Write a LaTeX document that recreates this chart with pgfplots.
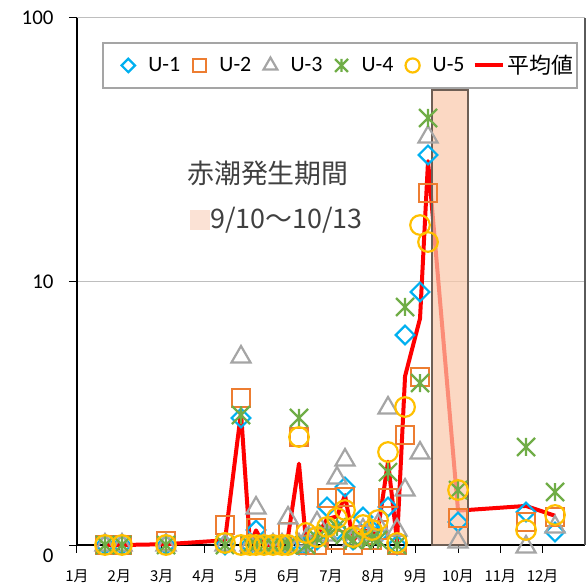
\documentclass[border=0pt]{standalone}
\usepackage{pgfplots}
\pgfplotsset{compat=1.18}
\usepackage{pgfplotstable}
\usepackage{fontspec}
\setmainfont{Carlito}
\newfontfamily\jp{Noto Sans CJK JP}

\definecolor{cU1}{RGB}{0,176,240}
\definecolor{cU2}{RGB}{237,125,49}
\definecolor{cU3}{RGB}{165,165,165}
\definecolor{cU4}{RGB}{112,173,71}
\definecolor{cU5}{RGB}{255,192,0}
\definecolor{peach}{RGB}{250,200,170}
\definecolor{peachtxt}{RGB}{251,226,213}
\definecolor{boxedge}{RGB}{110,95,85}
\definecolor{gridc}{RGB}{190,190,190}
\definecolor{legc}{RGB}{165,165,165}
\definecolor{txtc}{RGB}{64,64,64}
\definecolor{rimc}{RGB}{90,90,90}

\pgfdeclareplotmark{xstar}{%
  \pgfpathmoveto{\pgfqpoint{-\pgfplotmarksize}{-\pgfplotmarksize}}%
  \pgfpathlineto{\pgfqpoint{\pgfplotmarksize}{\pgfplotmarksize}}%
  \pgfpathmoveto{\pgfqpoint{-\pgfplotmarksize}{\pgfplotmarksize}}%
  \pgfpathlineto{\pgfqpoint{\pgfplotmarksize}{-\pgfplotmarksize}}%
  \pgfpathmoveto{\pgfqpoint{0pt}{-\pgfplotmarksize}}%
  \pgfpathlineto{\pgfqpoint{0pt}{\pgfplotmarksize}}%
  \pgfusepathqstroke
}

\pgfplotsset{
  markleg/.style={legend image code/.code={\path (0,0) (29bp,0);
    \draw[##1,/tikz/every mark/.append style={scale=0.72}] plot coordinates {(10bp,0bp)};}},
  redleg/.style={legend image code/.code={\path (0,0) (31bp,0);
    \draw[##1] (0bp,0) -- (28bp,0);}},
}

\pgfplotstableread{
x u1 u2 u3 u4 u5 avg
0.661 1 1 1 1 1 1
1.063 1 1 1 1 1 1
2.103 1 1.036 1 1 1 1.007
3.496 1 1.191 1 1 1.018 1.042
3.874 3.034 3.613 5.170 3.114 1 3.186
4.087 1 1 1 1 1 1
4.229 1.140 1.160 1.382 1 1 1.136
4.418 1 1 1 1 1 1
4.630 1 1 1 1 1 1
4.843 1 1 1 1 1 1
4.985 1 1.120 1.266 1 1 1.077
5.244 1 2.570 1 3.034 2.570 2.035
5.410 1 1 1.045 1 1.111 1.031
5.670 1.045 1 1.212 1.063 1.072 1.078
5.906 1.394 1.508 1.091 1.111 1.170 1.255
6.142 1.140 1.045 1.796 1.170 1.266 1.283
6.331 1.660 1.521 2.102 1.091 1.358 1.546
6.520 1.045 1 1.045 1.045 1.072 1.041
6.756 1.277 1.091 1.140 1.045 1.191 1.149
6.969 1.140 1.045 1.091 1.063 1.140 1.096
7.111 1.091 1.140 1.191 1.045 1.244 1.142
7.347 1.394 1.508 3.311 1.892 2.254 2.072
7.560 1 1 1.140 1 1.018 1.032
7.749 6.266 2.615 1.617 8.003 3.340 4.368
8.103 9.125 4.341 2.234 4.119 16.38 7.240
8.292 30.21 21.67 35.35 41.74 14.12 28.62
9.001 1.223 1.266 1.027 1.617 1.617 1.350
10.607 1.334 1.223 0.983 2.355 1.140 1.407
11.292 1.120 1.277 1.170 1.589 1.300 1.291
}\data

\begin{document}
\begin{tikzpicture}
\begin{axis}[
  at={(0,0)}, anchor=south west,
  scale only axis, width=508bp, height=527bp,
  xmin=0, xmax=12, ymode=log, ymin=1, ymax=100,
  clip=false,
  axis x line*=bottom, axis y line*=left,
  axis line style={black, line width=1.1bp},
  xtick={0,1,2,3,4,5,6,7,8,9,10,11},
  xticklabels={1月,2月,3月,4月,5月,6月,7月,8月,9月,10月,11月,12月},
  ytick={10,100}, yticklabels={10,100},
  extra y ticks={1}, extra y tick labels={0},
  extra y tick style={yticklabel style={yshift=-11bp}, grid=none},
  yminorticks=false,
  tick align=outside, major tick length=8bp,
  tick style={black, line width=1bp},
  ymajorgrids, y grid style={gridc, line width=1bp},
  xticklabel style={font=\jp\fontsize{15}{18}\selectfont, text=black, yshift=-13bp},
  yticklabel style={font=\fontsize{21}{24}\selectfont, text=black, xshift=-12bp},
  legend columns=6,
  legend style={at={(0.0787,0.9099)}, anchor=west, draw=none, fill=none,
    font=\fontsize{22}{26}\selectfont, inner sep=0pt,
    nodes={inner sep=0pt},
    /tikz/every even column/.append style={column sep=8bp}},
  legend cell align=left,
  markleg,
]
\addplot[red, line width=4bp, line join=round, forget plot] table[x=x,y=avg]{\data};
\addplot[only marks, cU1, line width=2.2bp, mark=square, mark size=6.6bp, mark options={rotate=45}] table[x=x,y=u1]{\data};
\addlegendentry{U-1}
\addplot[only marks, cU2, line width=2.2bp, mark=square, mark size=8.8bp] table[x=x,y=u2]{\data};
\addlegendentry{U-2}
\addplot[only marks, cU3, line width=2.2bp, mark=triangle, mark size=11bp] table[x=x,y=u3]{\data};
\addlegendentry{U-3}
\addplot[only marks, cU4, line width=2.2bp, mark=xstar, mark size=9bp] table[x=x,y=u4]{\data};
\addlegendentry{U-4}
\addplot[only marks, cU5, line width=2.2bp, mark=o, mark size=9.8bp] table[x=x,y=u5]{\data};
\addlegendentry{U-5}
\addlegendimage{red, line width=4bp, redleg}
\addlegendentry{\jp 平均値}
\addplot[fill=peach, fill opacity=0.7, draw=boxedge, line width=1.5bp, forget plot]
  coordinates {(8.386,1) (8.386,53.3) (9.237,53.3) (9.237,1)} -- cycle;
\draw[legc, line width=1.2bp] (rel axis cs:0.0512,0.8672) rectangle (rel axis cs:0.9843,0.9526);
\draw[rimc, line width=1.2bp] (rel axis cs:1,0) -- (rel axis cs:1,1);
\node[anchor=west, inner sep=0pt, font=\jp\fontsize{27}{30}\selectfont, text=txtc]
  at (axis cs:2.599,25.8) {赤潮発生期間};
\node[anchor=west, inner sep=0pt, font=\jp\fontsize{27}{30}\selectfont, text=txtc]
  at (axis cs:2.670,17.1) {\textcolor{peachtxt}{\rule[-2bp]{20bp}{20bp}}9/10～10/13};
\end{axis}
\pgfresetboundingbox
\path (-77bp,-40bp) rectangle (509bp,545bp);
\end{tikzpicture}
\end{document}
